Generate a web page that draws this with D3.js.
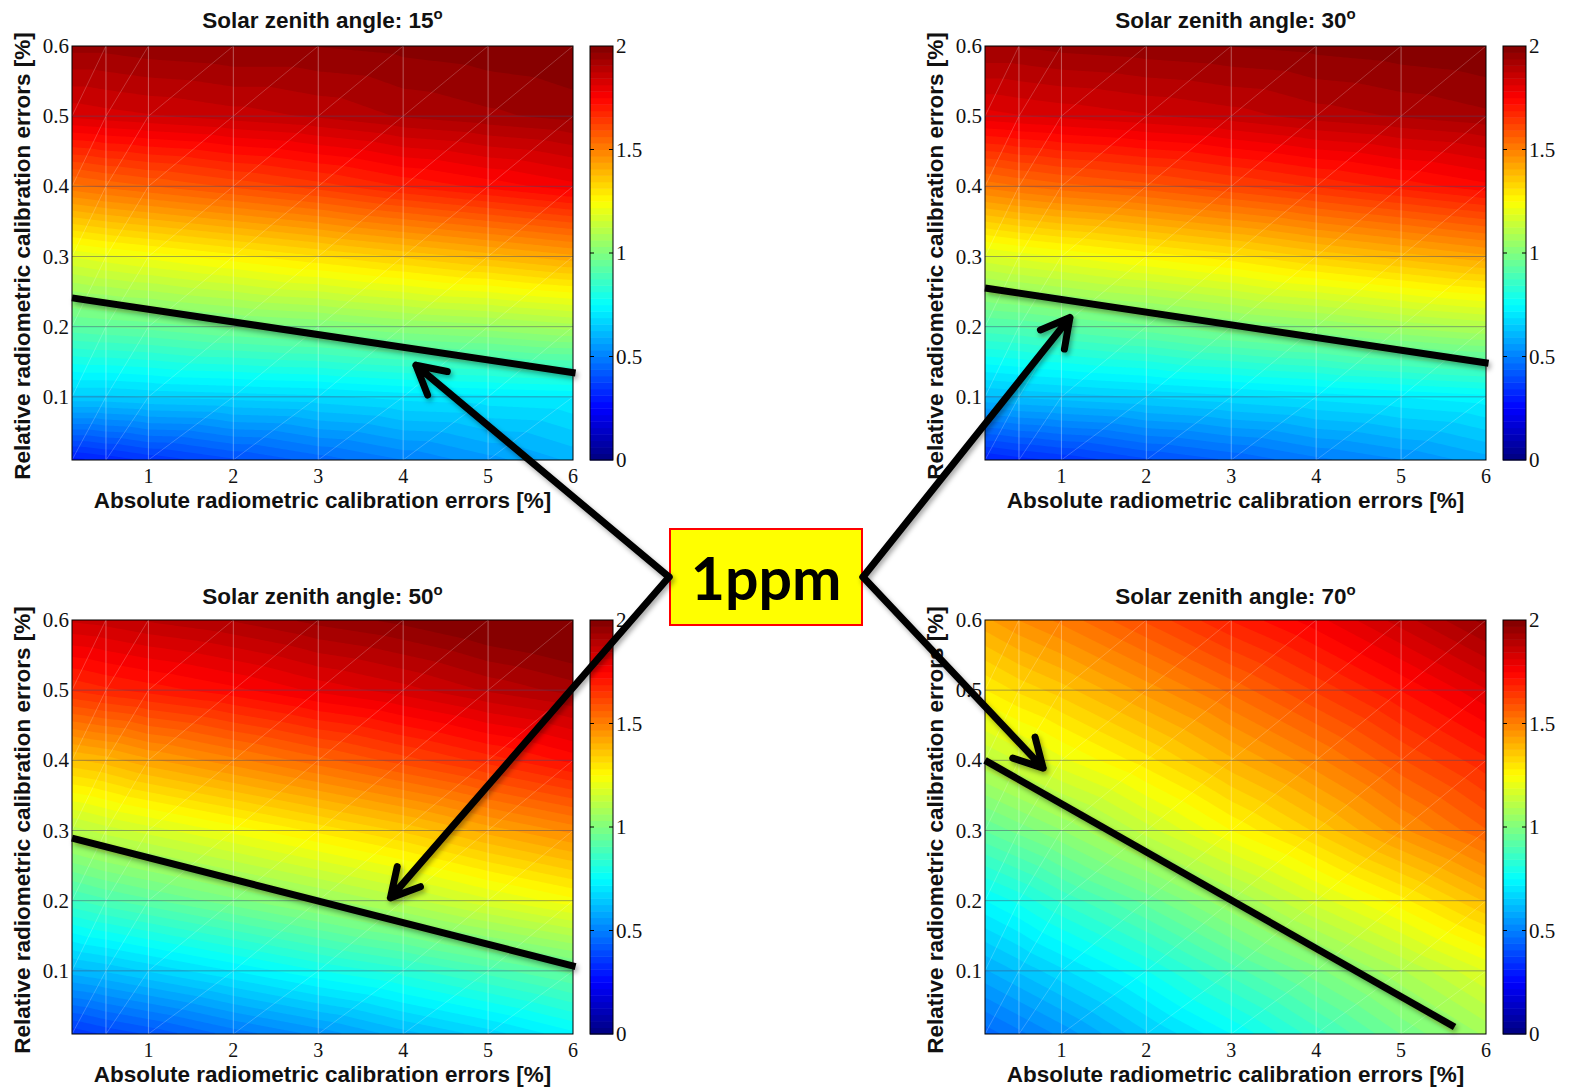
<!DOCTYPE html>
<html>
<head>
<meta charset="utf-8">
<title>1ppm calibration errors</title>
<script src="https://d3js.org/d3.v7.min.js" charset="utf-8"></script>
<style>
body { margin: 0; background: white; }
.title, .alabel { font-family: "Liberation Sans", Arial, sans-serif; font-weight: bold; fill: #111; }
.tick { font-family: "Liberation Serif", "Times New Roman", serif; fill: #111; }
</style>
</head>
<body>
<script>
// mesh nodes of the computed table
var xNodes = [0.1, 0.5, 1, 2, 3, 4, 5, 6];
var yNodes = [0.01, 0.1, 0.2, 0.3, 0.4, 0.5, 0.6];

var angles = [15, 30, 50, 70];

// values per row (y = 0.01 ... 0.6), columns follow xNodes
var grid15 = [
  [0.30, 0.32, 0.35, 0.40, 0.45, 0.50, 0.55, 0.60],
  [0.65, 0.65, 0.66, 0.67, 0.68, 0.70, 0.71, 0.72],
  [0.93, 0.94, 0.95, 0.98, 1.00, 1.03, 1.05, 1.08],
  [1.19, 1.21, 1.23, 1.27, 1.31, 1.35, 1.39, 1.43],
  [1.52, 1.54, 1.56, 1.60, 1.64, 1.69, 1.73, 1.77],
  [1.82, 1.83, 1.84, 1.86, 1.88, 1.91, 1.93, 1.95],
  [1.95, 1.95, 1.96, 1.97, 1.97, 1.98, 1.99, 2.00]
];
var grid30 = [
  [0.31, 0.33, 0.35, 0.40, 0.44, 0.49, 0.53, 0.58],
  [0.62, 0.63, 0.64, 0.66, 0.68, 0.70, 0.72, 0.74],
  [0.90, 0.91, 0.93, 0.96, 1.00, 1.03, 1.07, 1.10],
  [1.18, 1.20, 1.22, 1.26, 1.30, 1.35, 1.39, 1.43],
  [1.51, 1.53, 1.55, 1.58, 1.62, 1.66, 1.70, 1.74],
  [1.80, 1.81, 1.82, 1.84, 1.86, 1.89, 1.91, 1.93],
  [1.94, 1.94, 1.95, 1.96, 1.97, 1.98, 1.99, 2.00]
];
var grid50 = [
  [0.35, 0.38, 0.41, 0.48, 0.54, 0.61, 0.67, 0.74],
  [0.61, 0.63, 0.66, 0.72, 0.78, 0.83, 0.89, 0.95],
  [0.87, 0.90, 0.93, 0.99, 1.05, 1.11, 1.18, 1.24],
  [1.11, 1.14, 1.17, 1.23, 1.29, 1.35, 1.42, 1.48],
  [1.37, 1.39, 1.43, 1.49, 1.55, 1.61, 1.67, 1.73],
  [1.66, 1.68, 1.70, 1.74, 1.79, 1.83, 1.88, 1.92],
  [1.85, 1.86, 1.88, 1.91, 1.95, 1.98, 2.02, 2.05]
];
var grid70 = [
  [0.45, 0.49, 0.54, 0.65, 0.75, 0.86, 0.97, 1.07],
  [0.59, 0.63, 0.68, 0.78, 0.89, 0.99, 1.09, 1.19],
  [0.75, 0.79, 0.85, 0.95, 1.06, 1.17, 1.27, 1.38],
  [0.94, 0.98, 1.03, 1.14, 1.25, 1.35, 1.46, 1.56],
  [1.12, 1.16, 1.21, 1.30, 1.40, 1.49, 1.59, 1.68],
  [1.28, 1.32, 1.36, 1.45, 1.54, 1.63, 1.72, 1.81],
  [1.43, 1.47, 1.51, 1.60, 1.69, 1.77, 1.86, 1.95]
];
var grids = [grid15, grid30, grid50, grid70];

// 1ppm lines, [x, y] end points
var line15 = [[0.1, 0.241], [6.03, 0.134]];
var line30 = [[0.1, 0.255], [6.03, 0.148]];
var line50 = [[0.1, 0.289], [6.03, 0.106]];
var line70 = [[0.1, 0.400], [5.63, 0.020]];
var ppmLines = [line15, line30, line50, line70];

// where each arrow from the label points to
var arrowTips = [[4.15, 0.145], [1.1, 0.213], [3.85, 0.204], [0.785, 0.389]];

var xTicks = [1, 2, 3, 4, 5, 6];
var yTicks = [0.1, 0.2, 0.3, 0.4, 0.5, 0.6];
var cbTicks = [0, 0.5, 1, 1.5, 2];
var nLevels = 64;

var width = 1572, height = 1088;
var plotW = 501, plotH = 414;
var lefts = [72, 985, 72, 985];
var tops = [46, 46, 620, 620];

function jet(v) {
  var t = v / 2;
  var c = function(f) { return Math.max(0, Math.min(1, 1.5 - Math.abs(4 * t - f))); };
  return d3.rgb(255 * c(3), 255 * c(2), 255 * c(1)).toString();
}

// linear interpolation on the triangulated mesh
function meshValue(tab, x, y) {
  var i = Math.min(xNodes.length - 2, Math.max(0, d3.bisectRight(xNodes, x) - 1));
  var j = Math.min(yNodes.length - 2, Math.max(0, d3.bisectRight(yNodes, y) - 1));
  var u = (x - xNodes[i]) / (xNodes[i + 1] - xNodes[i]);
  var v = (y - yNodes[j]) / (yNodes[j + 1] - yNodes[j]);
  var f00 = tab[j][i], f10 = tab[j][i + 1], f01 = tab[j + 1][i], f11 = tab[j + 1][i + 1];
  if (v <= u) return f00 + u * (f10 - f00) + v * (f11 - f10);
  return f00 + v * (f01 - f00) + u * (f11 - f01);
}

var svg = d3.select("body").append("svg")
  .attr("width", width)
  .attr("height", height);

var defs = svg.append("defs");
defs.append("filter").attr("id", "shadow")
  .attr("x", "-20%").attr("y", "-20%").attr("width", "140%").attr("height", "140%")
  .append("feDropShadow")
  .attr("dx", 2).attr("dy", 3).attr("stdDeviation", 2.5)
  .attr("flood-color", "#000").attr("flood-opacity", 0.35);

var levels = d3.range(nLevels).map(function(k) { return k * 2 / nLevels; });
var gridN = 250, gridM = 207;

var xScales = [], yScales = [];

angles.forEach(function(angle, p) {
  var tab = grids[p];
  var x = d3.scaleLinear().domain([0.1, 6]).range([0, plotW]);
  var y = d3.scaleLinear().domain([0.01, 0.6]).range([plotH, 0]);
  xScales.push(x); yScales.push(y);

  var g = svg.append("g").attr("transform", "translate(" + lefts[p] + "," + tops[p] + ")");

  // sample field
  var values = new Array(gridN * gridM);
  for (var j = 0; j < gridM; j++) {
    for (var i = 0; i < gridN; i++) {
      var xv = x.invert((i + 0.5) / gridN * plotW);
      var yv = y.invert((j + 0.5) / gridM * plotH);
      values[j * gridN + i] = meshValue(tab, xv, yv);
    }
  }
  var contours = d3.contours().size([gridN, gridM]).thresholds(levels)(values);
  var proj = d3.geoTransform({
    point: function(gx, gy) {
      this.stream.point(x(x.invert(gx / gridN * plotW)), y(y.invert(gy / gridM * plotH)));
    }
  });
  var path = d3.geoPath(proj);

  g.append("rect").attr("width", plotW).attr("height", plotH).attr("fill", jet(levels[0]));
  g.selectAll("path.band")
    .data(contours)
    .enter()
    .append("path")
    .attr("class", "band")
    .attr("d", path)
    .attr("fill", function(d) { return jet(d.value + 1 / nLevels); });

  // mesh edges
  var mesh = g.append("g").attr("fill", "none");
  xNodes.slice(1, -1).forEach(function(xv) {
    mesh.append("line")
      .attr("x1", x(xv)).attr("x2", x(xv)).attr("y1", 0).attr("y2", plotH)
      .attr("stroke", "#fff").attr("stroke-opacity", 0.45).attr("stroke-width", 0.8);
  });
  for (var a = 0; a < xNodes.length - 1; a++) {
    for (var b = 0; b < yNodes.length - 1; b++) {
      mesh.append("line")
        .attr("x1", x(xNodes[a])).attr("y1", y(yNodes[b]))
        .attr("x2", x(xNodes[a + 1])).attr("y2", y(yNodes[b + 1]))
        .attr("stroke", "#fff").attr("stroke-opacity", 0.35).attr("stroke-width", 0.6);
    }
  }
  yTicks.slice(0, -1).forEach(function(yv) {
    mesh.append("line")
      .attr("x1", 0).attr("x2", plotW).attr("y1", y(yv)).attr("y2", y(yv))
      .attr("stroke", "#4a4a6e").attr("stroke-opacity", 0.55).attr("stroke-width", 0.9);
  });

  g.append("rect").attr("width", plotW).attr("height", plotH)
    .attr("fill", "none").attr("stroke", "#000").attr("stroke-width", 1);

  // ticks
  g.selectAll("text.xt").data(xTicks).enter().append("text")
    .attr("class", "tick")
    .attr("x", function(d) { return x(d); })
    .attr("y", plotH + 23)
    .attr("text-anchor", "middle")
    .attr("font-size", 20)
    .text(function(d) { return d; });
  g.selectAll("text.yt").data(yTicks).enter().append("text")
    .attr("class", "tick")
    .attr("x", -3)
    .attr("y", function(d) { return y(d) + 7; })
    .attr("text-anchor", "end")
    .attr("font-size", 21)
    .text(function(d) { return d3.format(".1f")(d); });

  // titles
  var title = g.append("text").attr("class", "title")
    .attr("x", plotW / 2).attr("y", p < 2 ? -18 : -16)
    .attr("text-anchor", "middle").attr("font-size", 22.5);
  title.append("tspan").text("Solar zenith angle: " + angle);
  title.append("tspan").attr("dy", -9).attr("font-size", 15).text("o");

  g.append("text").attr("class", "alabel")
    .attr("x", plotW / 2).attr("y", plotH + 48)
    .attr("text-anchor", "middle").attr("font-size", 22.5)
    .text("Absolute radiometric calibration errors [%]");
  g.append("text").attr("class", "alabel")
    .attr("transform", "translate(-42," + (plotH / 2 + 3) + ") rotate(-90)")
    .attr("text-anchor", "middle").attr("font-size", 22.5)
    .text("Relative radiometric calibration errors [%]");

  // colorbar
  var cb = g.append("g").attr("transform", "translate(518,0)");
  var cbY = d3.scaleLinear().domain([0, 2]).range([plotH, 0]);
  cb.selectAll("rect.c").data(levels).enter().append("rect")
    .attr("x", 0).attr("width", 23)
    .attr("y", function(d) { return cbY(d + 2 / nLevels); })
    .attr("height", function(d) { return cbY(d) - cbY(d + 2 / nLevels) + 0.5; })
    .attr("fill", function(d) { return jet(d + 1 / nLevels); });
  cb.append("rect").attr("width", 23).attr("height", plotH)
    .attr("fill", "none").attr("stroke", "#000").attr("stroke-width", 1);
  cbTicks.slice(1, -1).forEach(function(t) {
    cb.append("line").attr("x1", 0).attr("x2", 4).attr("y1", cbY(t)).attr("y2", cbY(t)).attr("stroke", "#000");
    cb.append("line").attr("x1", 19).attr("x2", 23).attr("y1", cbY(t)).attr("y2", cbY(t)).attr("stroke", "#000");
  });
  cb.selectAll("text").data(cbTicks).enter().append("text")
    .attr("class", "tick")
    .attr("x", 26)
    .attr("y", function(d) { return cbY(d) + 7; })
    .attr("font-size", 21)
    .text(function(d) { return d; });

  // 1ppm line
  g.append("line")
    .attr("x1", x(ppmLines[p][0][0])).attr("y1", y(ppmLines[p][0][1]))
    .attr("x2", x(ppmLines[p][1][0])).attr("y2", y(ppmLines[p][1][1]))
    .attr("stroke", "#000").attr("stroke-width", 7)
    .attr("filter", "url(#shadow)");
});

// label box
var box = { x: 670, y: 529, w: 192, h: 96 };
svg.append("rect")
  .attr("x", box.x).attr("y", box.y).attr("width", box.w).attr("height", box.h)
  .attr("fill", "#ffff00").attr("stroke", "#ff0000").attr("stroke-width", 2);
svg.append("text")
  .attr("x", box.x + box.w / 2).attr("y", box.y + 71)
  .attr("text-anchor", "middle")
  .attr("font-family", "Lato, 'Open Sans', sans-serif")
  .attr("font-weight", "bold")
  .attr("font-size", 59)
  .attr("fill", "#000")
  .text("1ppm");

// arrows
var arrows = svg.append("g")
  .attr("stroke", "#000").attr("stroke-width", 7)
  .attr("stroke-linecap", "round").attr("stroke-linejoin", "round")
  .attr("fill", "none").attr("filter", "url(#shadow)");
arrowTips.forEach(function(tip, p) {
  var sx = (p % 2 === 0) ? box.x - 1 : box.x + box.w + 1;
  var sy = box.y + box.h / 2;
  var tx = lefts[p] + xScales[p](tip[0]);
  var ty = tops[p] + yScales[p](tip[1]);
  var ang = Math.atan2(sy - ty, sx - tx);
  var len = 32, spread = 0.5;
  var d = "M" + sx + "," + sy + "L" + tx + "," + ty +
    "M" + (tx + len * Math.cos(ang + spread)) + "," + (ty + len * Math.sin(ang + spread)) +
    "L" + tx + "," + ty +
    "L" + (tx + len * Math.cos(ang - spread)) + "," + (ty + len * Math.sin(ang - spread));
  arrows.append("path").attr("d", d);
});
</script>
</body>
</html>
